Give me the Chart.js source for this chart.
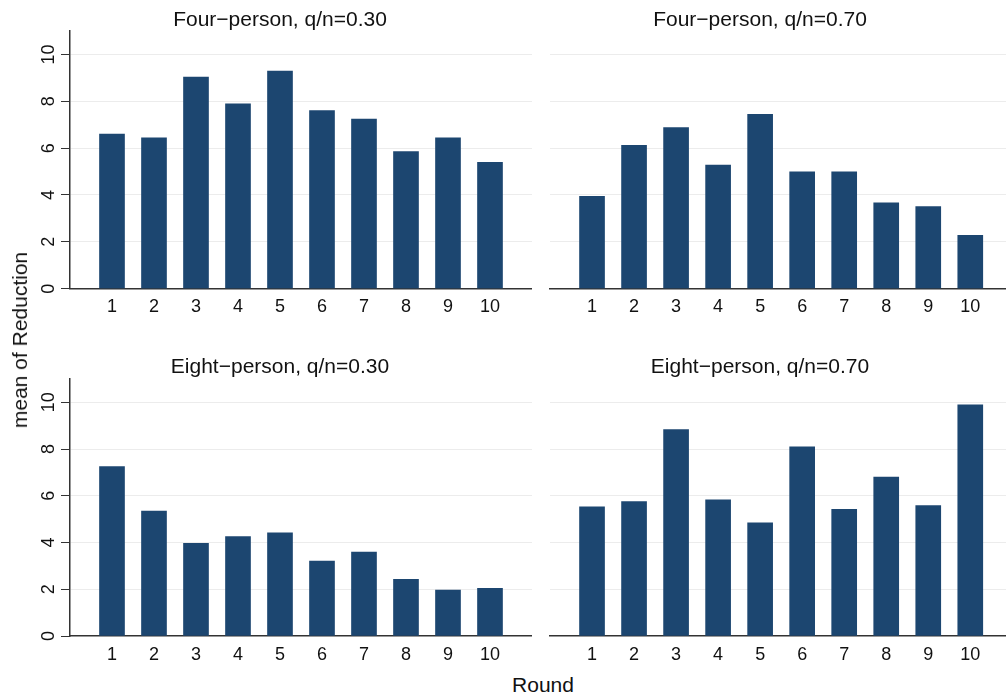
<!DOCTYPE html>
<html>
<head>
<meta charset="utf-8">
<script src="https://cdn.jsdelivr.net/npm/chart.js@4.4.1/dist/chart.umd.min.js"></script>
<style>
  html, body { margin: 0; padding: 0; background: #fff; overflow: hidden; }
  body { width: 1006px; height: 696px; position: relative; font-family: "Liberation Sans", Arial, sans-serif; }
  .panel { position: absolute; }
  .axtitle { position: absolute; font-size: 21px; color: #111; white-space: nowrap; }
  #ylab { left: 20px; top: 340px; transform: translate(-50%, -50%) rotate(-90deg); }
  #xlab { left: 543px; top: 685px; transform: translate(-50%, -50%); }
</style>
</head>
<body>
<div class="panel" style="left:28px; top:0px; width:504px; height:320px;"><canvas id="c1"></canvas></div>
<div class="panel" style="left:514px; top:0px; width:492px; height:320px;"><canvas id="c2"></canvas></div>
<div class="panel" style="left:28px; top:340px; width:504px; height:330px;"><canvas id="c3"></canvas></div>
<div class="panel" style="left:514px; top:340px; width:492px; height:330px;"><canvas id="c4"></canvas></div>
<div class="axtitle" id="ylab">mean of Reduction</div>
<div class="axtitle" id="xlab">Round</div>
<script>
// rounds and tick labels
const rounds = [1, 2, 3, 4, 5, 6, 7, 8, 9, 10];
const yTicks = [0, 2, 4, 6, 8, 10];

// mean of Reduction per round
const fourLow   = [6.60, 6.44, 9.03, 7.89, 9.29, 7.60, 7.24, 5.85, 6.44, 5.39];
const fourHigh  = [3.94, 6.12, 6.88, 5.28, 7.44, 4.99, 4.99, 3.67, 3.50, 2.28];
const eightLow  = [7.25, 5.35, 3.97, 4.25, 4.42, 3.21, 3.59, 2.43, 1.97, 2.04];
const eightHigh = [5.53, 5.75, 8.84, 5.83, 4.84, 8.10, 5.42, 6.80, 5.58, 9.89];

const titles = ['Four\u2212person, q/n=0.30', 'Four\u2212person, q/n=0.70',
                'Eight\u2212person, q/n=0.30', 'Eight\u2212person, q/n=0.70'];

const barColor = '#1c4670';
const axisColor = '#333333';
const gridColor = '#ececec';
const font = "'Liberation Sans', Arial, sans-serif";

function makeChart(id, values, title, opts) {
    const ctx = document.getElementById(id).getContext('2d');
    return new Chart(ctx, {
        type: 'bar',
        data: {
            datasets: [{
                data: rounds.map((r, i) => ({ x: r, y: values[i] })),
                backgroundColor: barColor,
                borderWidth: 0,
                barThickness: 25
            }]
        },
        options: {
            responsive: true,
            maintainAspectRatio: false,
            animation: false,
            layout: { padding: 0 },
            plugins: {
                legend: { display: false },
                tooltip: { enabled: false },
                title: {
                    display: true,
                    text: title,
                    color: '#111',
                    font: { family: font, size: 21, weight: 'normal', lineHeight: 1.0 },
                    padding: { top: opts.titleTop, bottom: opts.titleBottom }
                }
            },
            scales: {
                x: {
                    type: 'linear',
                    offset: false,
                    min: 0,
                    max: opts.xMax,
                    afterBuildTicks: s => { s.ticks = rounds.map(v => ({ value: v })); },
                    afterFit: s => { s.height = opts.xHeight; },
                    grid: { display: false, drawTicks: false, offset: false },
                    border: { display: true, color: axisColor, width: 1.5 },
                    ticks: {
                        color: '#111',
                        padding: 8,
                        maxRotation: 0,
                        autoSkip: false,
                        font: { family: font, size: 18 }
                    }
                },
                y: {
                    min: 0,
                    max: 11,
                    afterBuildTicks: s => { s.ticks = yTicks.map(v => ({ value: v })); },
                    afterFit: s => { s.width = opts.yWidth; },
                    grid: {
                        color: c => (c.tick && c.tick.value === 0) ? 'rgba(0,0,0,0)' : gridColor,
                        tickColor: axisColor,
                        tickLength: 9,
                        drawTicks: opts.showY,
                        lineWidth: 1
                    },
                    border: { display: opts.showY, color: axisColor, width: 1.5 },
                    ticks: {
                        display: opts.showY,
                        color: '#111',
                        padding: 2,
                        minRotation: 90,
                        maxRotation: 90,
                        crossAlign: 'center',
                        font: { family: font, size: 18 }
                    }
                }
            }
        }
    });
}

makeChart('c1', fourLow, titles[0],
    { titleTop: 10, titleBottom: 0, xMax: 11, xHeight: 31.3, yWidth: 42, showY: true });
makeChart('c2', fourHigh, titles[1],
    { titleTop: 10, titleBottom: 0, xMax: 10.85, xHeight: 31.3, yWidth: 36, showY: false });
makeChart('c3', eightLow, titles[2],
    { titleTop: 17, titleBottom: 1, xMax: 11, xHeight: 34, yWidth: 42, showY: true });
makeChart('c4', eightHigh, titles[3],
    { titleTop: 17, titleBottom: 1, xMax: 10.85, xHeight: 34, yWidth: 36, showY: false });
</script>
</body>
</html>
